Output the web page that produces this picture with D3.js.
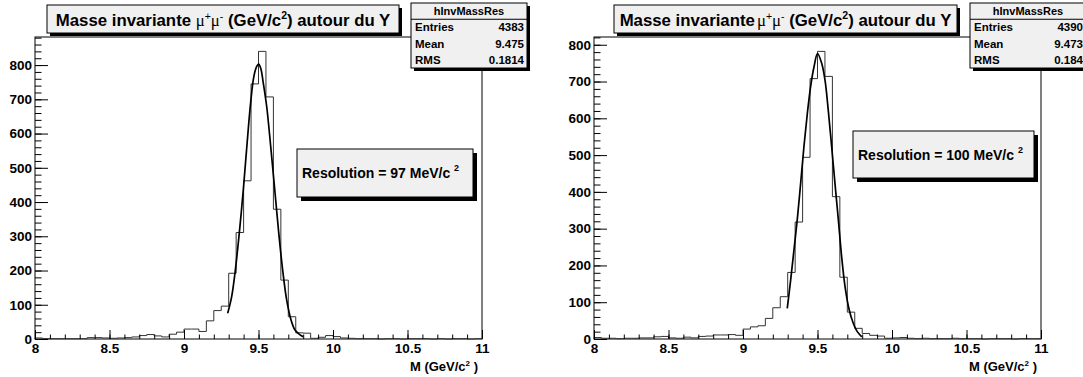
<!DOCTYPE html>
<html><head><meta charset="utf-8">
<script src="https://cdn.jsdelivr.net/npm/d3@7"></script>
<style>
html,body{margin:0;padding:0;background:#fff;}
svg{display:block;font-family:"Liberation Sans",Arial,Helvetica,sans-serif;}
</style></head><body>
<svg id="c" width="1083" height="377"></svg>
<script>
// ---------------- data ----------------
const xDomain = [8, 11];
const xMajorTicks = [8, 8.5, 9, 9.5, 10, 10.5, 11];
const xTickLabels = ["8", "8.5", "9", "9.5", "10", "10.5", "11"];
const yMajorTicks = [0, 100, 200, 300, 400, 500, 600, 700, 800];
const binStart = 8;
const binWidth = 0.05;

// 60 bins, 8.00 .. 11.00
const countsLeft = [
  3, 1, 1, 1, 1, 1, 1, 4, 4, 3,
  2, 3, 4, 6, 10, 13, 9, 6, 14, 20,
  29, 29, 22, 53, 83, 96, 192, 311, 462, 745,
  840, 707, 379, 172, 65, 18, 17, 2, 5, 10,
  7, 3, 2, 1, 1, 1, 0, 1, 1, 0,
  1, 1, 1, 0, 1, 0, 1, 1, 0, 1
];
const countsRight = [
  4, 2, 2, 1, 2, 2, 3, 3, 6, 7,
  3, 2, 5, 3, 7, 8, 11, 11, 12, 10,
  27, 33, 36, 56, 85, 115, 181, 318, 494, 708,
  782, 714, 387, 168, 73, 29, 15, 10, 8, 2,
  3, 4, 2, 1, 2, 1, 1, 1, 2, 1,
  1, 1, 0, 1, 1, 1, 0, 1, 1, 1
];

// fitted curves: [M, counts]
const fitLeft = [
  [9.293, 75], [9.320, 124], [9.342, 192], [9.371, 309], [9.398, 436], [9.420, 553],
  [9.447, 689], [9.469, 767], [9.488, 796], [9.501, 803], [9.515, 791], [9.532, 748],
  [9.555, 679], [9.582, 562], [9.609, 436], [9.636, 309], [9.662, 202], [9.689, 114],
  [9.718, 56], [9.745, 26], [9.779, 12], [9.800, 7]
];
const fitRight = [
  [9.297, 83], [9.320, 161], [9.342, 242], [9.364, 324], [9.387, 424], [9.409, 523],
  [9.432, 614], [9.454, 687], [9.477, 741], [9.500, 776], [9.528, 750], [9.550, 705],
  [9.572, 623], [9.595, 523], [9.617, 424], [9.640, 324], [9.662, 224], [9.685, 142],
  [9.713, 79], [9.740, 43], [9.767, 20], [9.797, 6]
];

const statsNames = ["Entries", "Mean", "RMS"];
const statsLeft = ["4383", "9.475", "0.1814"];
const statsRight = ["4390", "9.473", "0.184"];
const histName = "hInvMassRes";
const resolutionLeft = "97";
const resolutionRight = "100";

// ---------------- drawing ----------------
const svg = d3.select("#c");
svg.append("rect").attr("width", 1083).attr("height", 377).attr("fill", "#fff");

function drawPanel(cfg) {
  const g = svg.append("g").attr("transform", `translate(${cfg.off},0)`);
  const F = {x0: 35, x1: 482, y0: 37, y1: 339};
  const x = d3.scaleLinear().domain(xDomain).range([F.x0, F.x1]);
  const yMax = d3.max(cfg.counts) * 1.05;
  const y = d3.scaleLinear().domain([0, yMax]).range([F.y1, F.y0]);

  // frame
  g.append("rect").attr("x", F.x0).attr("y", F.y0)
    .attr("width", F.x1 - F.x0).attr("height", F.y1 - F.y0)
    .attr("fill", "none").attr("stroke", "#000").attr("stroke-width", 1);

  // histogram
  let p = `M${x(binStart)},${y(0)}`;
  cfg.counts.forEach((c, i) => {
    const xa = x(binStart + i * binWidth), xb = x(binStart + (i + 1) * binWidth);
    p += `L${xa},${y(c)}L${xb},${y(c)}`;
  });
  p += `L${x(binStart + cfg.counts.length * binWidth)},${y(0)}`;
  g.append("path").attr("d", p).attr("fill", "none")
    .attr("stroke", "#333").attr("stroke-width", 1);

  // fit curve
  const line = d3.line().x(d => x(d[0])).y(d => y(d[1])).curve(d3.curveCatmullRom);
  g.append("path").attr("d", line(cfg.fit)).attr("fill", "none")
    .attr("stroke", "#000").attr("stroke-width", 1.7);

  // x axis
  const xMinor = d3.range(0, 31).map(i => 8 + i * 0.1);
  const xAx = g.append("g").attr("transform", `translate(0,${F.y1})`)
    .call(d3.axisBottom(x).tickValues(xMinor).tickSize(-4.5).tickFormat(""));
  xAx.select(".domain").remove();
  const xAxM = g.append("g").attr("transform", `translate(0,${F.y1})`)
    .call(d3.axisBottom(x).tickValues(xMajorTicks).tickSize(-9).tickPadding(4)
      .tickFormat((d, i) => xTickLabels[i]));
  xAxM.select(".domain").remove();
  xAxM.selectAll("text").attr("font-size", 13.5).attr("font-weight", "bold")
    .attr("fill", "#000").attr("font-family", "Liberation Sans, Arial, sans-serif");

  // y axis
  const yMinor = d3.range(0, Math.floor(yMax / 20) + 1).map(i => i * 20);
  const yAx = g.append("g").attr("transform", `translate(${F.x0},0)`)
    .call(d3.axisLeft(y).tickValues(yMinor).tickSize(-6.5).tickFormat(""));
  yAx.select(".domain").remove();
  const yAxM = g.append("g").attr("transform", `translate(${F.x0},0)`)
    .call(d3.axisLeft(y).tickValues(yMajorTicks).tickSize(-13).tickPadding(3).tickFormat(d3.format("d")));
  yAxM.select(".domain").remove();
  yAxM.selectAll("text").attr("font-size", 13.5).attr("font-weight", "bold")
    .attr("fill", "#000").attr("font-family", "Liberation Sans, Arial, sans-serif");
  g.selectAll(".tick line").attr("stroke", "#000");

  // axis title
  const at = g.append("text").attr("x", 478).attr("y", 371).attr("text-anchor", "end")
    .attr("font-size", 13).attr("font-weight", "bold");
  at.append("tspan").text("M (GeV/c");
  at.append("tspan").attr("font-size", 8).attr("dy", -5).text("2");
  at.append("tspan").attr("dy", 5).text(" )");

  // title box
  const T = cfg.title;
  g.append("rect").attr("x", T.x + 3).attr("y", T.y + 3).attr("width", T.w).attr("height", T.h).attr("fill", "#000");
  g.append("rect").attr("x", T.x).attr("y", T.y).attr("width", T.w).attr("height", T.h)
    .attr("fill", "#f0f0f0").attr("stroke", "#000").attr("stroke-width", 1);
  const tt = g.append("text").attr("x", T.x + T.w / 2).attr("y", T.y + 20.5).attr("text-anchor", "middle")
    .attr("font-size", 16.8).attr("font-weight", "bold");
  tt.append("tspan").text("Masse invariante" + T.sep);
  tt.append("tspan").attr("dx", T.dx).attr("font-weight", "normal").attr("font-family", "Liberation Serif, serif").text("μ");
  tt.append("tspan").attr("font-size", 10.5).attr("font-weight", "normal").attr("dy", -6).text("+");
  tt.append("tspan").attr("dy", 6).attr("font-weight", "normal").attr("font-family", "Liberation Serif, serif").text("μ");
  tt.append("tspan").attr("font-size", 10.5).attr("font-weight", "normal").attr("dy", -6).text("-");
  tt.append("tspan").attr("dy", 6).text(" (GeV/c");
  tt.append("tspan").attr("font-size", 10.5).attr("dy", -7).text("2");
  tt.append("tspan").attr("dy", 7).text(") autour du Y");

  // stats box
  const S = {x: 411, y: 3, w: 116, h: 65};
  const rowH = S.h / 4;
  g.append("rect").attr("x", S.x + 3).attr("y", S.y + 3).attr("width", S.w).attr("height", S.h).attr("fill", "#000");
  g.append("rect").attr("x", S.x).attr("y", S.y).attr("width", S.w).attr("height", S.h)
    .attr("fill", "#f0f0f0").attr("stroke", "#000");
  g.append("line").attr("x1", S.x).attr("x2", S.x + S.w).attr("y1", S.y + rowH).attr("y2", S.y + rowH)
    .attr("stroke", "#000");
  g.append("text").attr("x", S.x + S.w / 2).attr("y", S.y + rowH / 2 + 4).attr("text-anchor", "middle")
    .attr("font-size", 11).attr("font-weight", "bold").text(histName);
  statsNames.forEach((n, i) => {
    const yy = S.y + rowH * (i + 1.5) + 4;
    g.append("text").attr("x", S.x + 4).attr("y", yy).attr("font-size", 11.5).attr("font-weight", "bold").text(n);
    g.append("text").attr("x", S.x + S.w - 3).attr("y", yy).attr("text-anchor", "end")
      .attr("font-size", 11.5).attr("font-weight", "bold").text(cfg.stats[i]);
  });

  // resolution box
  const R = cfg.res;
  g.append("rect").attr("x", R.x + 4).attr("y", R.y + 4).attr("width", R.w).attr("height", R.h).attr("fill", "#000");
  g.append("rect").attr("x", R.x).attr("y", R.y).attr("width", R.w).attr("height", R.h)
    .attr("fill", "#f0f0f0").attr("stroke", "#000");
  const rt = g.append("text").attr("x", R.x + 5).attr("y", R.y + R.h / 2 + 5)
    .attr("font-size", 14).attr("font-weight", "bold");
  rt.append("tspan").text(`Resolution = ${R.val} MeV/c `);
  rt.append("tspan").attr("font-size", 9).attr("dy", -7).text("2");
}

drawPanel({
  off: 0, counts: countsLeft, fit: fitLeft, stats: statsLeft,
  title: {x: 47, y: 5, w: 352, h: 28, sep: " ", dx: 0},
  res: {x: 297, y: 149, w: 176, h: 48, val: resolutionLeft}
});
drawPanel({
  off: 559, counts: countsRight, fit: fitRight, stats: statsRight,
  title: {x: 55, y: 5, w: 343, h: 28, sep: "", dx: 2},
  res: {x: 294, y: 131, w: 181, h: 47, val: resolutionRight}
});
</script>
</body></html>
